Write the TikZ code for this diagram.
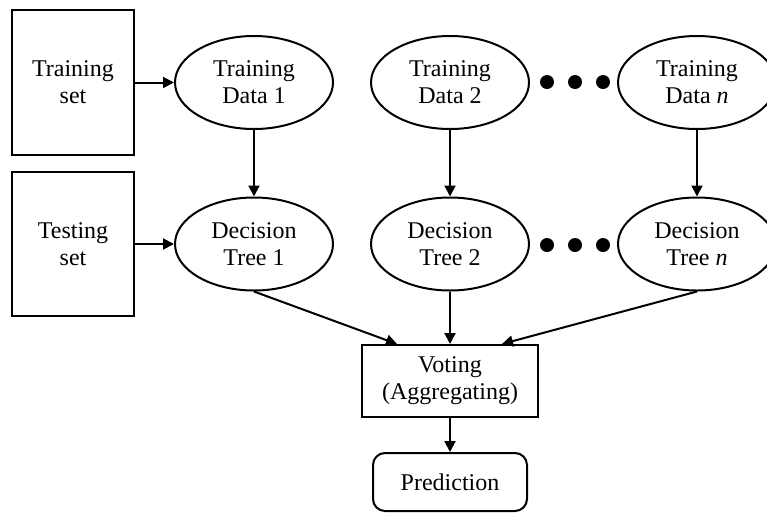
\documentclass[tikz,border=0pt]{standalone}
\usepackage{fontspec}
\setmainfont{Liberation Serif}
\usetikzlibrary{arrows.meta,shapes.geometric}
\begin{document}
\begin{tikzpicture}[x=1pt,y=-1pt,
  every node/.style={font=\fontsize{24}{27}\selectfont, align=center, inner sep=0pt},
  box/.style={draw, line width=2.1pt, rectangle},
  ell/.style={draw, line width=2pt, ellipse, minimum width=158pt, minimum height=93pt},
  arr/.style={line width=2pt, -{Triangle[length=11pt,width=11pt]}},
  dot/.style={fill, circle, minimum size=14pt}]
\useasboundingbox (0,0) rectangle (767,512);
\node[box, minimum width=122pt, minimum height=145pt] (trs) at (73,82.5) {Training\\set};
\node[box, minimum width=122pt, minimum height=144pt] (tes) at (73,244) {Testing\\set};
\node[ell] (td1) at (254,82.5) {Training\\Data 1};
\node[ell] (td2) at (450,82.5) {Training\\Data 2};
\node[ell] (tdn) at (697,82.5) {Training\\Data \textit{n}};
\node[ell] (dt1) at (254,244) {Decision\\Tree 1};
\node[ell] (dt2) at (450,244) {Decision\\Tree 2};
\node[ell] (dtn) at (697,244) {Decision\\Tree \textit{n}};
\node[dot] (a1) at (547,82) {};
\node[dot] (a2) at (575,82) {};
\node[dot] (a3) at (603,82) {};
\node[dot] (b1) at (547,245) {};
\node[dot] (b2) at (575,245) {};
\node[dot] (b3) at (603,245) {};
\node[box, line width=2pt, minimum width=176pt, minimum height=72pt] (vote) at (450,381) {Voting\\(Aggregating)};
\node[draw, line width=2pt, rounded corners=12pt, minimum width=154pt, minimum height=58pt] (pred) at (450,482) {Prediction};
\draw[arr] (trs.east |- td1) -- (td1.west);
\draw[arr] (tes.east |- dt1) -- (dt1.west);
\draw[arr] (td1.south) -- (dt1.north);
\draw[arr] (td2.south) -- (dt2.north);
\draw[arr] (tdn.south) -- (dtn.north);
\draw[arr] (dt1.south) -- ([xshift=-53pt]vote.north);
\draw[arr] (dt2.south) -- (vote.north);
\draw[arr] (dtn.south) -- ([xshift=52pt]vote.north);
\draw[arr] (vote.south) -- (pred.north);
\end{tikzpicture}
\end{document}
